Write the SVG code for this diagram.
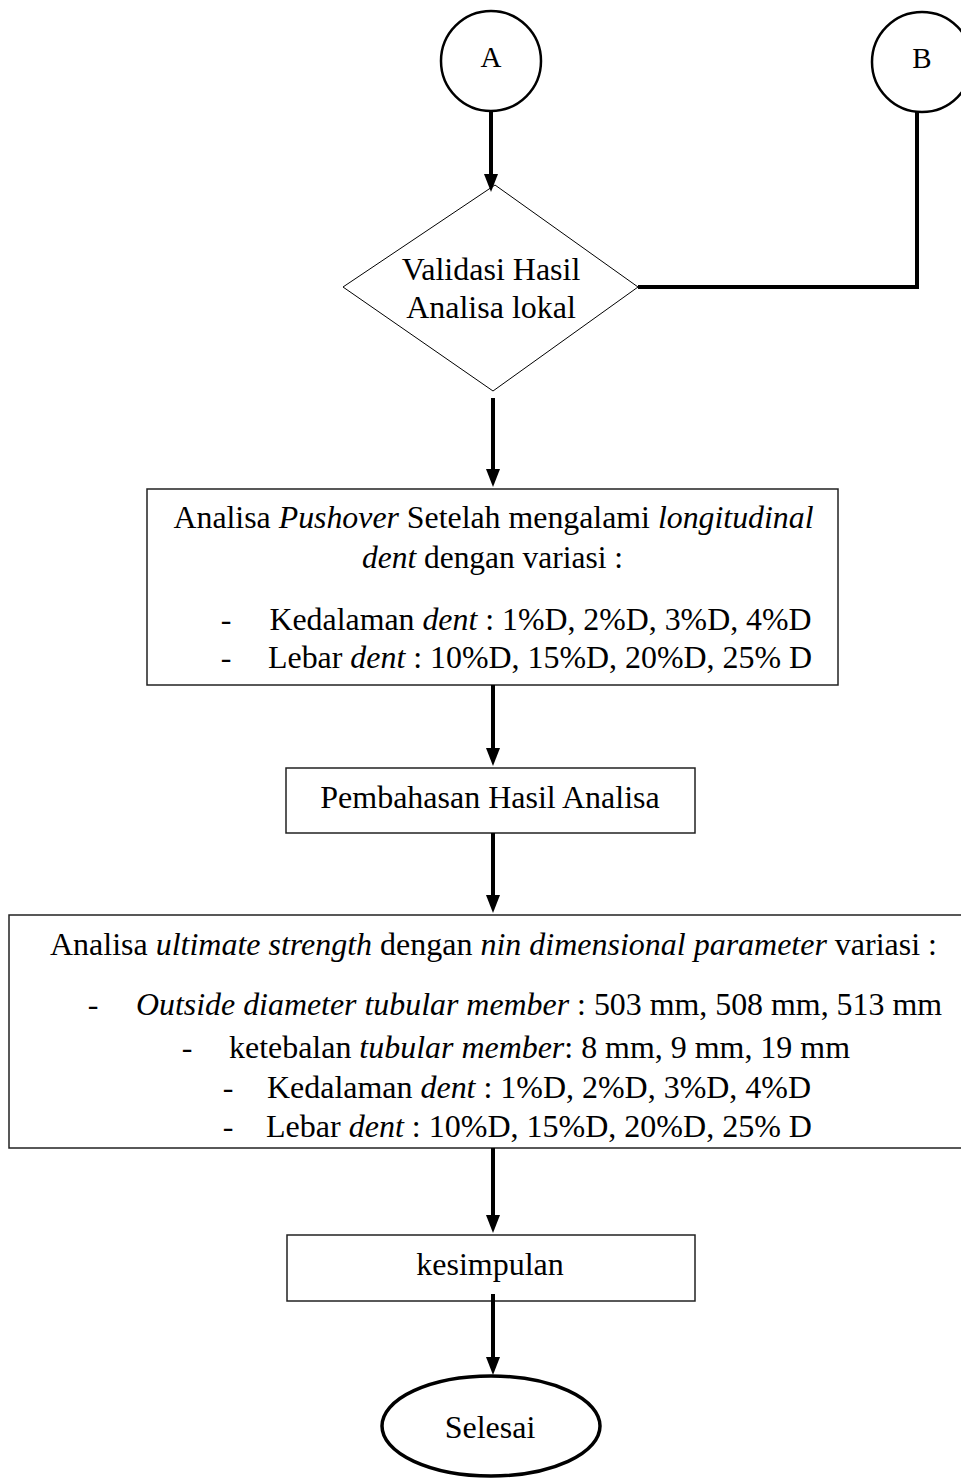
<svg xmlns="http://www.w3.org/2000/svg" width="961" height="1479" viewBox="0 0 961 1479">
<style>
text{font-family:"Liberation Serif","Times New Roman",serif;font-size:32px;fill:#000}
.c{text-anchor:middle}
.i{font-style:italic}
.box{fill:#fff;stroke:#222;stroke-width:1.5}
.circ{fill:#fff;stroke:#000;stroke-width:2.5}
.conn{fill:none;stroke:#000;stroke-width:4}
</style>
<defs>
<marker id="ah" markerUnits="userSpaceOnUse" markerWidth="18" markerHeight="14" viewBox="0 0 18 14" refX="10" refY="7" orient="auto">
<path d="M0,0 L18,7 L0,14 Z" fill="#000"/>
</marker>
</defs>
<rect width="961" height="1479" fill="#fff"/>

<g id="nodeA">
<circle class="circ" cx="491" cy="61" r="50"/>
<text class="c" x="491" y="67" style="font-size:29px">A</text>
</g>
<g id="nodeB">
<circle class="circ" cx="922" cy="62" r="50"/>
<text class="c" x="922" y="68" style="font-size:29px">B</text>
</g>
<g id="validasi">
<polygon points="495,185 638,287 493,391 343,287" fill="#fff" stroke="#000" stroke-width="1"/>
<text class="c" x="491" y="280">Validasi Hasil</text>
<text class="c" x="491" y="318">Analisa lokal</text>
</g>
<g id="pushover">
<rect class="box" x="147" y="489" width="691" height="196"/>
<text x="173.5" y="528" textLength="640" lengthAdjust="spacingAndGlyphs">Analisa <tspan class="i">Pushover</tspan> Setelah mengalami <tspan class="i">longitudinal</tspan></text>
<text x="362" y="568" textLength="261" lengthAdjust="spacingAndGlyphs"><tspan class="i">dent</tspan> dengan variasi :</text>
<text class="c" x="226" y="630">-</text>
<text x="269.5" y="630" textLength="542" lengthAdjust="spacingAndGlyphs">Kedalaman <tspan class="i">dent</tspan> : 1%D, 2%D, 3%D, 4%D</text>
<text class="c" x="226" y="668">-</text>
<text x="268" y="668" textLength="544" lengthAdjust="spacingAndGlyphs">Lebar <tspan class="i">dent</tspan> : 10%D, 15%D, 20%D, 25% D</text>
</g>
<g id="pembahasan">
<rect class="box" x="286" y="768" width="409" height="65"/>
<text class="c" x="490" y="808">Pembahasan Hasil Analisa</text>
</g>
<g id="ultimate">
<rect class="box" x="9" y="915" width="960" height="233"/>
<text x="50" y="955" textLength="887" lengthAdjust="spacingAndGlyphs">Analisa <tspan class="i">ultimate strength</tspan> dengan <tspan class="i">nin dimensional parameter</tspan> variasi :</text>
<text class="c" x="93" y="1015">-</text>
<text x="136" y="1015" textLength="806" lengthAdjust="spacingAndGlyphs"><tspan class="i">Outside diameter tubular member</tspan> : 503 mm, 508 mm, 513 mm</text>
<text class="c" x="187" y="1058">-</text>
<text x="229" y="1058" textLength="621" lengthAdjust="spacingAndGlyphs">ketebalan <tspan class="i">tubular member</tspan>: 8 mm, 9 mm, 19 mm</text>
<text class="c" x="228" y="1098">-</text>
<text x="267" y="1098" textLength="544" lengthAdjust="spacingAndGlyphs">Kedalaman <tspan class="i">dent</tspan> : 1%D, 2%D, 3%D, 4%D</text>
<text class="c" x="228" y="1137">-</text>
<text x="266" y="1137" textLength="546" lengthAdjust="spacingAndGlyphs">Lebar <tspan class="i">dent</tspan> : 10%D, 15%D, 20%D, 25% D</text>
</g>
<g id="kesimpulan">
<rect class="box" x="287" y="1235" width="408" height="66"/>
<text class="c" x="490" y="1275">kesimpulan</text>
</g>
<g id="selesai">
<ellipse cx="491" cy="1426" rx="109" ry="50" fill="#fff" stroke="#000" stroke-width="3.5"/>
<text class="c" x="490" y="1438">Selesai</text>
</g>

<g id="connectors">
<path class="conn" d="M491,111 V184" marker-end="url(#ah)"/>
<path class="conn" d="M917,112 V287 H638"/>
<path class="conn" d="M493,398 V479" marker-end="url(#ah)"/>
<path class="conn" d="M493,685 V758" marker-end="url(#ah)"/>
<path class="conn" d="M493,833 V905" marker-end="url(#ah)"/>
<path class="conn" d="M493,1148 V1225" marker-end="url(#ah)"/>
<path class="conn" d="M493,1294 V1367" marker-end="url(#ah)"/>
</g>
</svg>
